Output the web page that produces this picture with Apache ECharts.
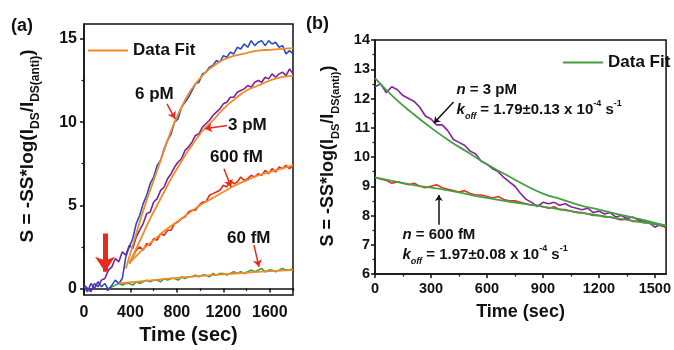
<!DOCTYPE html>
<html>
<head>
<meta charset="utf-8">
<script src="https://cdn.jsdelivr.net/npm/echarts@6/dist/echarts.min.js"></script>
<style>
  html, body { margin: 0; padding: 0; background: #fff; }
  #chart { width: 674px; height: 350px; }
</style>
</head>
<body>
<div id="chart"></div>
<script>
// ---- panel (a): association, time grid every 30 s ----
const tA = [0, 30, 60, 90, 120, 150, 180, 210, 240, 270, 300, 330, 360, 390, 420, 450, 480, 510, 540, 570,
  600, 630, 660, 690, 720, 750, 780, 810, 840, 870, 900, 930, 960, 990, 1020, 1050, 1080, 1110, 1140, 1170,
  1200, 1230, 1260, 1290, 1320, 1350, 1380, 1410, 1440, 1470, 1500, 1530, 1560, 1590, 1620, 1650, 1680, 1710, 1740, 1770,
  1800]
const blue6pM = [0.1, -0.2, 0.3, 0.0, 0.4, 0.1, 0.3, -0.1, 0.2, 0.5,
  0.3, 0.6, 1.9, 2.5, 3.0, 3.9, 4.4, 5.1, 5.6, 6.3,
  6.7, 7.4, 7.7, 8.4, 8.9, 9.3, 10.0, 10.2, 10.9, 11.2,
  11.5, 11.9, 12.3, 12.4, 12.9, 13.0, 13.3, 13.4, 13.7, 13.6,
  14.0, 13.9, 14.2, 14.1, 14.5, 14.4, 14.7, 14.5, 14.9, 14.6,
  14.8, 14.9, 14.6, 14.9, 14.7, 14.8, 14.5, 14.6, 14.1, 14.3,
  14.1]
const purple3pM = [0.2, 0.0, -0.2, 0.3, 0.1, 0.5, 0.6, 1.1, 1.3, 1.8,
  1.6, 2.2, 2.0, 2.6, 2.4, 3.1, 3.5, 3.9, 4.5, 4.6,
  5.2, 5.4, 5.9, 6.1, 6.6, 6.9, 7.3, 7.6, 7.8, 8.3,
  8.5, 8.8, 9.2, 9.3, 9.7, 9.9, 10.1, 10.4, 10.6, 10.8,
  11.1, 11.2, 11.5, 11.5, 11.8, 11.9, 12.0, 12.2, 12.1, 12.4,
  12.5, 12.4, 12.7, 12.6, 12.9, 12.7, 12.9, 13.0, 12.8, 13.2,
  12.9]
const red600fM = [null, null, null, null, null, null, null, null, null, null, null, null, null,
  1.5, 1.9, 2.3, 2.5, 2.3, 2.7, 2.6, 3.0, 2.9, 3.3,
  3.2, 3.5, 3.5, 3.9, 4.0, 4.2, 4.3, 4.6, 4.7, 4.7,
  5.0, 5.2, 5.2, 5.6, 5.7, 5.8, 5.9, 6.2, 6.1, 6.5,
  6.3, 6.4, 6.7, 6.5, 6.6, 6.8, 6.7, 6.9, 6.8, 7.1,
  6.9, 7.2, 7.0, 7.3, 7.2, 7.4, 7.2, 7.4]
const green60fM = [null, null, null, null, null, null, null,
  0.0, 0.1, 0.2, 0.3, 0.2, 0.3, 0.3, 0.2, 0.4, 0.3,
  0.4, 0.5, 0.4, 0.5, 0.5, 0.4, 0.6, 0.5, 0.6, 0.6,
  0.5, 0.7, 0.6, 0.7, 0.7, 0.8, 0.7, 0.8, 0.8, 0.7,
  0.9, 0.8, 0.9, 0.9, 0.8, 0.9, 1.0, 0.9, 1.0, 0.9,
  1.0, 1.1, 1.0, 1.1, 1.2, 1.0, 1.1, 1.1, 1.0, 1.1,
  1.2, 1.1, 1.1, 1.2]

const fit6pMT = [360, 420, 480, 540, 600, 660, 720, 780, 840, 900, 960, 1020, 1080, 1140, 1200, 1300, 1400, 1500, 1600, 1700, 1800]
const fit6pM = [1.2, 2.6, 4.0, 5.3, 6.5, 7.7, 8.9, 10.0, 10.9, 11.7, 12.3, 12.8, 13.2, 13.5, 13.75, 14.0, 14.15, 14.3, 14.35, 14.4, 14.45]
const fit3pMT = [390, 450, 510, 570, 630, 690, 750, 810, 870, 930, 990, 1050, 1110, 1200, 1300, 1400, 1500, 1600, 1700, 1800]
const fit3pM = [1.5, 2.4, 3.3, 4.2, 5.0, 5.8, 6.6, 7.3, 8.0, 8.6, 9.2, 9.7, 10.1, 10.8, 11.4, 11.9, 12.2, 12.5, 12.7, 12.8]
const fit600fMT = [390, 500, 600, 700, 800, 900, 1000, 1100, 1200, 1300, 1400, 1500, 1600, 1700, 1800]
const fit600fM = [1.5, 2.3, 2.9, 3.5, 4.0, 4.5, 5.0, 5.4, 5.8, 6.2, 6.5, 6.8, 7.0, 7.2, 7.4]
const fit60fMT = [300, 600, 900, 1200, 1500, 1800]
const fit60fM = [0.3, 0.5, 0.7, 0.85, 1.0, 1.1]

// ---- panel (b): dissociation ----
const tB = [0, 30, 60, 90, 120, 150, 180, 210, 240, 270, 300, 330, 360, 390, 420, 450, 480, 510, 540, 570,
  600, 630, 660, 690, 720, 750, 780, 810, 840, 870, 900, 930, 960, 990, 1020, 1050, 1080, 1110, 1140, 1170,
  1200, 1230, 1260, 1290, 1320, 1350, 1380, 1410, 1440, 1470, 1500, 1530, 1560]
const purpleB = [12.4, 12.5, 12.2, 12.4, 12.3, 12.1, 12.0, 11.9, 11.7, 11.4,
  11.3, 11.1, 11.1, 10.9, 10.6, 10.5, 10.4, 10.2, 10.1, 9.85,
  9.75, 9.6, 9.5, 9.3, 9.15, 9.0, 8.75, 8.55, 8.45, 8.3,
  8.45, 8.4, 8.45, 8.35, 8.4, 8.3, 8.25, 8.2, 8.25, 8.1,
  8.15, 8.05, 8.1, 7.95, 8.0, 7.9, 7.95, 7.85, 7.8, 7.75,
  7.6, 7.7, 7.6]
const redB = [9.3, 9.25, 9.2, 9.1, 9.15, 9.1, 9.05, 9.1, 9.0, 8.95,
  9.0, 9.05, 8.95, 8.9, 8.85, 8.8, 8.85, 8.75, 8.7, 8.7,
  8.65, 8.6, 8.65, 8.55, 8.5, 8.5, 8.45, 8.4, 8.35, 8.35,
  8.3, 8.25, 8.3, 8.2, 8.2, 8.15, 8.1, 8.1, 8.05, 8.0,
  8.0, 7.95, 7.95, 7.9, 7.85, 7.9, 7.8, 7.8, 7.75, 7.75,
  7.7, 7.65, 7.6]
const fitPT = [0, 100, 200, 300, 400, 500, 600, 700, 800, 900, 1000, 1100, 1200, 1300, 1400, 1500, 1560]
const fitP = [12.7, 12.05, 11.5, 11.0, 10.55, 10.15, 9.75, 9.4, 9.05, 8.75, 8.55, 8.35, 8.2, 8.05, 7.9, 7.75, 7.65]
const fitRT = [0, 200, 400, 600, 800, 1000, 1200, 1400, 1560]
const fitR = [9.3, 9.05, 8.85, 8.6, 8.4, 8.2, 8.0, 7.8, 7.65]

// ticks
const xTicksA = [0, 400, 800, 1200, 1600]
const xMinorA = [200, 600, 1000, 1400, 1800]
const yTicksA = [0, 5, 10, 15]
const yMinorA = [2.5, 7.5, 12.5]
const xTicksB = [0, 300, 600, 900, 1200, 1500]
const xMinorB = [150, 450, 750, 1050, 1350]
const yTicksB = [6, 7, 8, 9, 10, 11, 12, 13, 14]
const yMinorB = [6.5, 7.5, 8.5, 9.5, 10.5, 11.5, 12.5, 13.5]

// annotations (data space)
const labelsA = [
  { at: [439, 11.7], text: '6 pM' },
  { at: [1240, 9.8], text: '3 pM' },
  { at: [1085, 7.9], text: '600 fM' },
  { at: [1232, 3.0], text: '60 fM' }
]
const arrowsA = [
  [[715, 11.1], [784, 10.2]],
  [[1232, 9.8], [1042, 9.6]],
  [[1206, 7.2], [1266, 6.1]],
  [[1464, 2.6], [1507, 1.3]]
]
const injectArrow = [[181, 3.3], [181, 1.0]]
const labelsB = [
  { at: [437, 12.29], text: '{i|n}{t| = 3 pM}' },
  { at: [437, 11.6], text: '{i|k}{sub|off}{t| = 1.79±0.13 x 10}{sup|-4}{t| s}{sup|-1}' },
  { at: [147, 7.33], text: '{i|n}{t| = 600 fM}' },
  { at: [147, 6.65], text: '{i|k}{sub|off}{t| = 1.97±0.08 x 10}{sup|-4}{t| s}{sup|-1}' }
]
const arrowsB = [
  [[421, 11.88], [316, 11.16]],
  [[342, 7.68], [342, 8.7]]
]

const FONT = "'Liberation Sans', Arial, sans-serif"
const INK = '#111'
const pairs = (ts, vs) => ts.map((t, i) => [t, vs[i]])
const plain = v => String(v)

function mainX(grid, max, ticks, size, margin, gap, nameSize) {
  return {
    gridIndex: grid, type: 'value', min: 0, max: max, position: 'bottom',
    axisLine: { lineStyle: { color: INK, width: 1.5 } },
    axisTick: { customValues: ticks, length: 4, lineStyle: { color: INK, width: 1.5 } },
    axisLabel: { customValues: ticks, formatter: plain, margin: margin, fontSize: size, fontWeight: 'bold', color: INK, fontFamily: FONT },
    splitLine: { show: false },
    name: 'Time (sec)', nameLocation: 'middle', nameGap: gap,
    nameTextStyle: { fontSize: nameSize, fontWeight: 'bold', color: INK, fontFamily: FONT }
  }
}
function mainY(grid, min, max, ticks, size, margin) {
  return {
    gridIndex: grid, type: 'value', min: min, max: max, position: 'left',
    axisLine: { lineStyle: { color: INK, width: 1.5 } },
    axisTick: { customValues: ticks, length: 4, lineStyle: { color: INK, width: 1.5 } },
    axisLabel: { customValues: ticks, formatter: plain, margin: margin, fontSize: size, fontWeight: 'bold', color: INK, fontFamily: FONT },
    splitLine: { show: false }
  }
}
function minorAxis(grid, min, max, ticks, pos) {
  return {
    gridIndex: grid, type: 'value', min: min, max: max, position: pos,
    axisLine: { show: false },
    axisTick: { customValues: ticks, length: 2.5, lineStyle: { color: INK, width: 1.2 } },
    axisLabel: { show: false },
    splitLine: { show: false }
  }
}
function dataLine(name, data, color, xi, yi) {
  return {
    name: name, type: 'line', data: data, xAxisIndex: xi, yAxisIndex: yi,
    symbol: 'none', lineStyle: { color: color, width: 1.6 }, itemStyle: { color: color }
  }
}
function fitLine(name, data, color, xi, yi) {
  return {
    name: name, type: 'line', data: data, xAxisIndex: xi, yAxisIndex: yi, smooth: true,
    symbol: 'none', lineStyle: { color: color, width: 1.8 }, itemStyle: { color: color }, z: 4
  }
}
function notes(items, xi, yi, size, rich) {
  return {
    type: 'scatter', xAxisIndex: xi, yAxisIndex: yi, symbolSize: 0, silent: true, z: 6,
    itemStyle: { opacity: 1 },
    data: items.map(d => ({ value: d.at, name: d.text })),
    label: {
      show: true, position: 'right', distance: 0, formatter: '{b}',
      fontSize: size, fontWeight: 'bold', color: INK, fontFamily: FONT, rich: rich
    }
  }
}
function arrows(list, xi, yi, color, width, head) {
  return {
    type: 'lines', coordinateSystem: 'cartesian2d', xAxisIndex: xi, yAxisIndex: yi, silent: true, z: 6,
    symbol: ['none', 'arrow'], symbolSize: head,
    lineStyle: { color: color, width: width, opacity: 1, curveness: 0 },
    data: list.map(c => ({ coords: c }))
  }
}

const ORANGE = '#f28a26'
const richB = {
  t: { fontSize: 15, fontWeight: 'bold', color: INK, fontFamily: FONT, lineHeight: 22 },
  i: { fontSize: 15, fontWeight: 'bold', fontStyle: 'italic', color: INK, fontFamily: FONT, lineHeight: 22 },
  sub: { fontSize: 9, fontWeight: 'bold', fontStyle: 'italic', color: INK, fontFamily: FONT, lineHeight: 9, verticalAlign: 'bottom' },
  sup: { fontSize: 9, fontWeight: 'bold', color: INK, fontFamily: FONT, lineHeight: 9, verticalAlign: 'top' }
}
function yTitle(size, sub) {
  return {
    text: '{m|S = -SS*log(I}{s|DS}{m|/I}{s|DS(anti)}{m|)}',
    rich: {
      m: { fontSize: size, fontWeight: 'bold', fill: INK, fontFamily: FONT, lineHeight: size + 8 },
      s: { fontSize: sub, fontWeight: 'bold', fill: INK, fontFamily: FONT, lineHeight: sub, verticalAlign: 'bottom' }
    },
    align: 'center', verticalAlign: 'middle'
  }
}
function legendAt(left, top, name) {
  return {
    left: left, top: top, icon: 'rect', itemWidth: 40, itemHeight: 2, itemGap: 0, padding: 0, data: [name],
    formatter: () => 'Data Fit',
    textStyle: { fontSize: 17, fontWeight: 'bold', color: INK, fontFamily: FONT }
  }
}

const chart = echarts.init(document.getElementById('chart'), null, { renderer: 'canvas' })
chart.setOption({
  animation: false,
  backgroundColor: '#fff',
  textStyle: { fontFamily: FONT },
  grid: [
    { left: 84, top: 24, width: 209, height: 279, show: true, borderColor: INK, borderWidth: 1.5, backgroundColor: 'transparent' },
    { left: 375, top: 40, width: 295, height: 234, show: true, borderColor: INK, borderWidth: 1.5, backgroundColor: 'transparent' }
  ],
  legend: [
    legendAt(88, 42, 'Data Fit'),
    legendAt(563, 54, 'Data Fit (b)')
  ],
  xAxis: [
    mainX(0, 1800, xTicksA, 16, 9, 27, 20),
    minorAxis(0, 0, 1800, xMinorA, 'bottom'),
    mainX(1, 1560, xTicksB, 14.5, 7, 29, 18),
    minorAxis(1, 0, 1560, xMinorB, 'bottom')
  ],
  yAxis: [
    mainY(0, -0.4, 15.9, yTicksA, 16, 7),
    minorAxis(0, -0.4, 15.9, yMinorA, 'left'),
    mainY(1, 6, 14, yTicksB, 14.5, 5),
    minorAxis(1, 6, 14, yMinorB, 'left')
  ],
  graphic: [
    { type: 'text', left: 11, top: 17, style: { text: '(a)', fontSize: 18, fontWeight: 'bold', fill: INK, fontFamily: FONT } },
    { type: 'text', left: 306, top: 15, style: { text: '(b)', fontSize: 18, fontWeight: 'bold', fill: INK, fontFamily: FONT } },
    { type: 'text', x: 28, y: 146, rotation: Math.PI / 2, style: yTitle(19, 12) },
    { type: 'text', x: 328, y: 156, rotation: Math.PI / 2, style: yTitle(18, 11) }
  ],
  series: [
    dataLine('60 fM', pairs(tA, green60fM), '#3d9a34', 0, 0),
    dataLine('600 fM', pairs(tA, red600fM), '#e8291c', 0, 0),
    dataLine('3 pM', pairs(tA, purple3pM), '#7b2296', 0, 0),
    dataLine('6 pM', pairs(tA, blue6pM), '#2b48c8', 0, 0),
    fitLine('Data Fit', pairs(fit6pMT, fit6pM), ORANGE, 0, 0),
    fitLine('Data Fit', pairs(fit3pMT, fit3pM), ORANGE, 0, 0),
    fitLine('Data Fit', pairs(fit600fMT, fit600fM), ORANGE, 0, 0),
    fitLine('Data Fit', pairs(fit60fMT, fit60fM), ORANGE, 0, 0),
    notes(labelsA, 0, 0, 17, {}),
    arrows(arrowsA, 0, 0, '#e8291c', 1.5, 7),
    arrows([injectArrow], 0, 0, '#e8291c', 5, 15),

    dataLine('600 fM (b)', pairs(tB, redB), '#ec2f1e', 2, 2),
    dataLine('3 pM (b)', pairs(tB, purpleB), '#82259a', 2, 2),
    fitLine('Data Fit (b)', pairs(fitPT, fitP), '#43a043', 2, 2),
    fitLine('Data Fit (b)', pairs(fitRT, fitR), '#43a043', 2, 2),
    notes(labelsB, 2, 2, 15, richB),
    arrows(arrowsB, 2, 2, INK, 1.5, 6)
  ]
})
</script>
</body>
</html>
